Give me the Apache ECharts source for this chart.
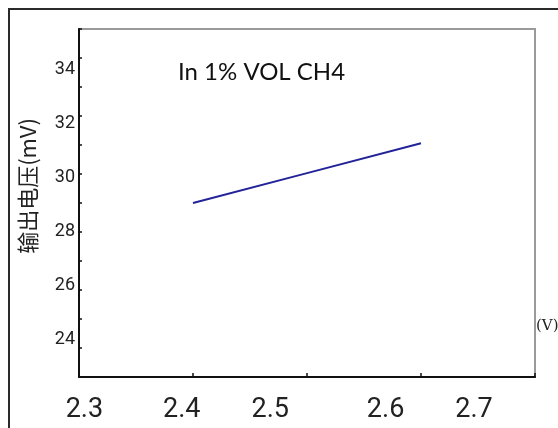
<!DOCTYPE html>
<html>
<head>
<meta charset="utf-8">
<script src="https://cdn.jsdelivr.net/npm/echarts@6/dist/echarts.min.js"></script>
<style>
  html, body { margin: 0; padding: 0; background: #fff; }
  #chart { width: 558px; height: 428px; }
</style>
</head>
<body>
<div id="chart"></div>
<script>
// ---- data ----
const X_VALUES = [2.4, 2.5, 2.6];
const Y_VALUES = [29.0, 30.03, 31.06];
const X_TICK_VALUES = [2.3, 2.4, 2.5, 2.6, 2.7];
const X_TICK_LABELS = ['2.3', '2.4', '2.5', '2.6', '2.7'];
const Y_TICK_VALUES = [24, 26, 28, 30, 32, 34];
const Y_TICK_LABELS = ['24', '26', '28', '30', '32', '34'];
const ANNOTATION = 'In 1% VOL CH4';
const Y_NAME = '输出电压(mV)';
const X_NAME = '(V)';

// ---- layout (label placement as in the reference) ----
const X_LABEL_NUDGE = [0, 0, -9, 9, 0]; // px, horizontal per tick label

function nearestIndex(arr, v) {
  let best = 0;
  for (let i = 1; i < arr.length; i++) if (Math.abs(arr[i] - v) < Math.abs(arr[best] - v)) best = i;
  return best;
}

const TICK_FONT = 'Roboto';
const chart = echarts.init(document.getElementById('chart'), null, { renderer: 'canvas' });

const option = {
  animation: false,
  backgroundColor: '#fff',
  title: {
    text: ANNOTATION,
    left: 178,
    top: 60,
    padding: 0,
    textStyle: { fontFamily: 'Lato', fontWeight: 'normal', fontSize: 24, color: '#111' }
  },
  graphic: [{
    type: 'rect',
    shape: { x: 9, y: 9, width: 700, height: 600 },
    style: { fill: 'none', stroke: '#2a2a2a', lineWidth: 2 },
    silent: true
  }],
  grid: {
    left: 79, right: 23, top: 29, bottom: 51,
    outerBoundsMode: 'none', containLabel: false,
    show: true, borderColor: '#9a9a9a', borderWidth: 2, backgroundColor: 'transparent'
  },
  xAxis: [{
    type: 'value', min: 2.3, max: 2.7, interval: 0.1,
    axisLine: { show: true, lineStyle: { color: '#111', width: 2 } },
    axisTick: { show: true, inside: true, length: 4, lineStyle: { color: '#111', width: 1.5 } },
    axisLabel: { show: false },
    splitLine: { show: false },
    name: '{v|' + X_NAME + '}', nameLocation: 'end', nameGap: 1,
    nameTextStyle: {
      rich: { v: { fontFamily: 'DejaVu Serif', fontSize: 15, color: '#222', padding: [0, 0, 102, 0] } }
    }
  }, {
    type: 'value', position: 'bottom', min: 2.29446, max: 2.76263,
    axisLine: { show: false }, axisTick: { show: false }, splitLine: { show: false },
    axisLabel: {
      show: true, margin: 20,
      customValues: X_TICK_VALUES,
      fontFamily: TICK_FONT, fontSize: 27, color: '#222',
      formatter: function (v) {
        const i = nearestIndex(X_TICK_VALUES, v);
        const n = X_LABEL_NUDGE[i];
        if (n < 0) return '{l|' + X_TICK_LABELS[i] + '}';
        if (n > 0) return '{r|' + X_TICK_LABELS[i] + '}';
        return X_TICK_LABELS[i];
      },
      rich: {
        l: { fontFamily: TICK_FONT, fontSize: 27, color: '#222', padding: [0, 18, 0, 0] },
        r: { fontFamily: TICK_FONT, fontSize: 27, color: '#222', padding: [0, 0, 0, 18] }
      }
    }
  }],
  yAxis: [{
    type: 'value', min: 23, max: 35, interval: 1,
    axisLine: { show: true, lineStyle: { color: '#111', width: 2 } },
    axisTick: { show: true, inside: true, length: 3, lineStyle: { color: '#111', width: 1.5 } },
    axisLabel: { show: false },
    splitLine: { show: false },
    name: Y_NAME, nameLocation: 'middle', nameRotate: 90, nameGap: 40,
    nameTextStyle: { fontFamily: 'Noto Sans CJK SC', fontSize: 22, color: '#222', padding: [0, 0, 0, 34] }
  }, {
    type: 'value', position: 'left', min: 22.6, max: 35.52,
    axisLine: { show: false }, axisTick: { show: false }, splitLine: { show: false },
    axisLabel: {
      show: true, margin: 4,
      customValues: Y_TICK_VALUES,
      fontFamily: TICK_FONT, fontSize: 18, color: '#222',
      formatter: function (v) { return Y_TICK_LABELS[nearestIndex(Y_TICK_VALUES, v)]; }
    }
  }],
  series: [{
    type: 'line',
    xAxisIndex: 0, yAxisIndex: 0,
    data: X_VALUES.map((x, i) => [x, Y_VALUES[i]]),
    symbol: 'none',
    lineStyle: { color: '#22229a', width: 2 }
  }]
};

chart.setOption(option);
</script>
</body>
</html>
